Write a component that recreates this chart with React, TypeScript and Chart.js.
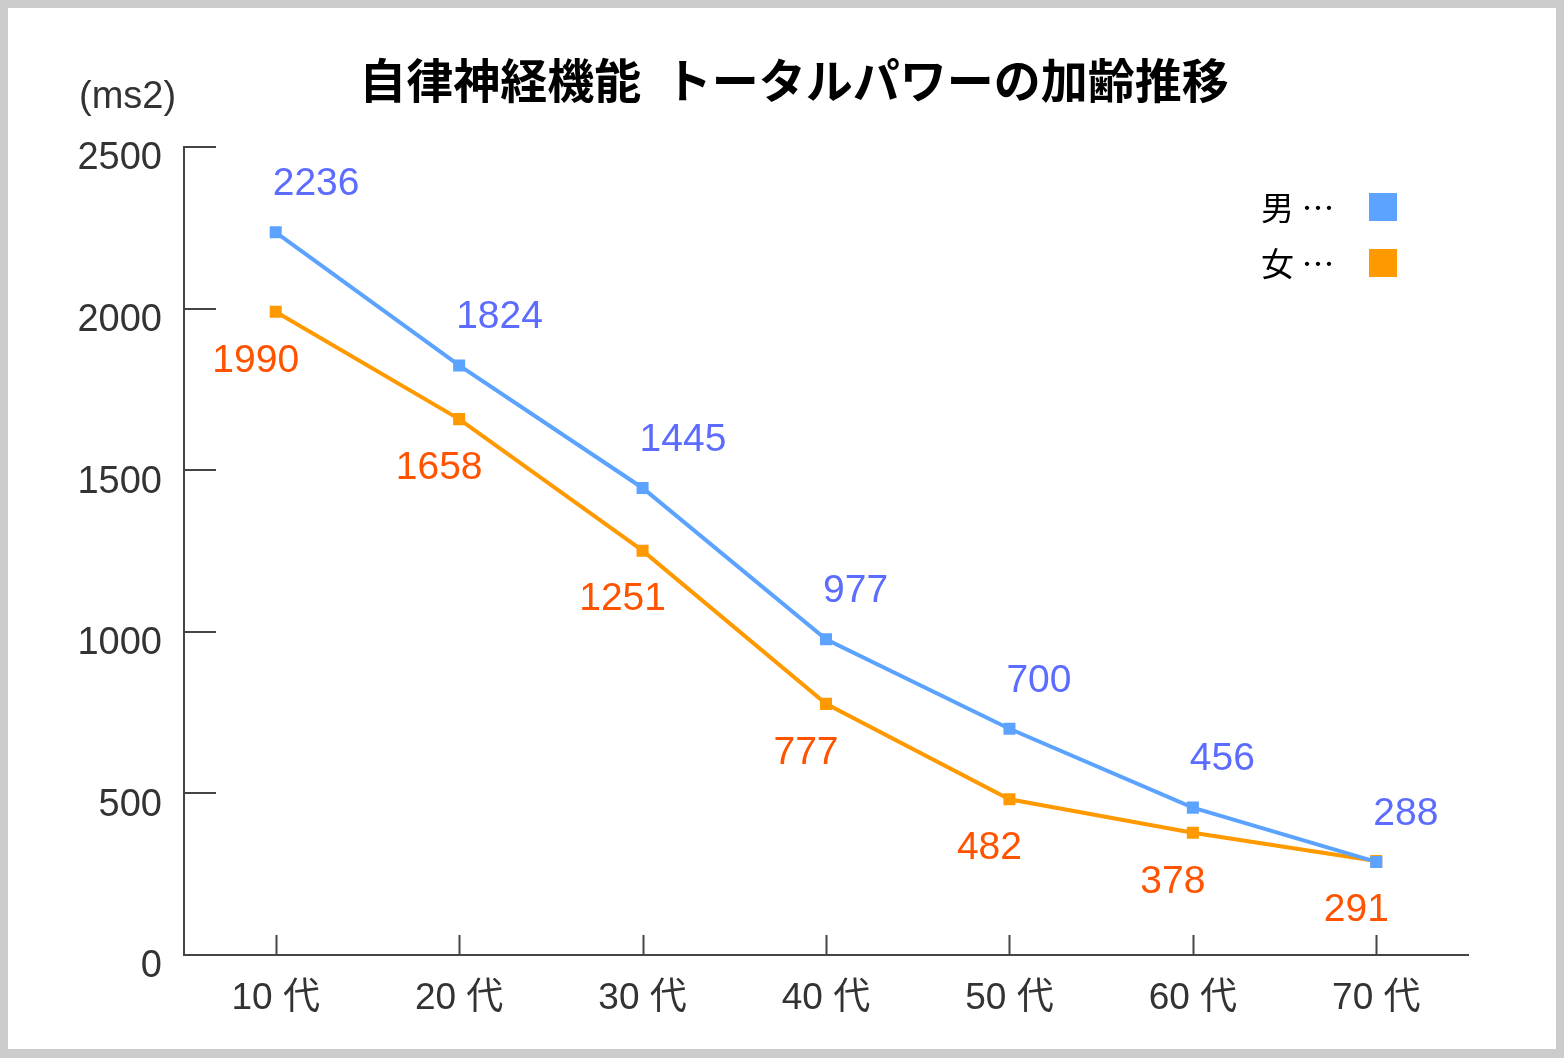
import React, { useEffect, useRef } from "react";
import { Chart, registerables } from "chart.js";

Chart.register(...registerables);

const TITLE = "自律神経機能\u2002トータルパワーの加齢推移";
const UNIT_LABEL = "(ms2)";
const categories = ["10 代", "20 代", "30 代", "40 代", "50 代", "60 代", "70 代"];
const seriesNames = ["男 …", "女 …"];
const maleValues = [2236, 1824, 1445, 977, 700, 456, 288];
const femaleValues = [1990, 1658, 1251, 777, 482, 378, 291];
const yTicks = [0, 500, 1000, 1500, 2000, 2500];

const NUM_FONT = '"Liberation Sans", Arial, "Noto Sans CJK JP", sans-serif';
const CJK_FONT = '"Noto Sans CJK JP", "Liberation Sans", sans-serif';

const MALE_LINE = "#5ca3ff";
const FEMALE_LINE = "#ff9900";
const MALE_LABEL = "#5b6cff";
const FEMALE_LABEL = "#ff5300";

const W = 1548;
const H = 1041;

const decorPlugin = {
  id: "decor",
  afterDraw(chart: any) {
    const ctx = chart.ctx as CanvasRenderingContext2D;
    const area = chart.chartArea;
    const xs = chart.scales.x;
    const ys = chart.scales.y;
    ctx.save();
    // inward tick marks
    ctx.strokeStyle = "#444";
    ctx.lineWidth = 2;
    ys.ticks.forEach((t: any) => {
      const y = Math.round(ys.getPixelForValue(t.value));
      ctx.beginPath();
      ctx.moveTo(area.left, y);
      ctx.lineTo(area.left + 32, y);
      ctx.stroke();
    });
    categories.forEach((_, i) => {
      const x = Math.round(xs.getPixelForValue(i)) + 0.5;
      ctx.beginPath();
      ctx.moveTo(x, area.bottom);
      ctx.lineTo(x, area.bottom - 20);
      ctx.stroke();
    });

    // title
    ctx.fillStyle = "#000";
    ctx.font = `bold 47px ${CJK_FONT}`;
    ctx.textAlign = "center";
    ctx.textBaseline = "middle";
    ctx.fillText(TITLE, 786, 72);

    // unit
    ctx.fillStyle = "#333";
    ctx.font = `38px ${NUM_FONT}`;
    ctx.textAlign = "left";
    ctx.fillText(UNIT_LABEL, 71, 90);

    // legend
    const ds = chart.data.datasets;
    ds.forEach((d: any, i: number) => {
      const cy = 199 + i * 56;
      ctx.fillStyle = "#000";
      ctx.font = `33px ${CJK_FONT}`;
      ctx.textAlign = "left";
      ctx.textBaseline = "middle";
      ctx.fillText(d.label, 1253, cy);
      ctx.fillStyle = d.borderColor;
      ctx.fillRect(1361, cy - 14, 28, 28);
    });
    ctx.restore();
  },
  afterDatasetsDraw(chart: any) {
    const ctx = chart.ctx as CanvasRenderingContext2D;
    ctx.save();
    ctx.font = `39px ${NUM_FONT}`;
    ctx.textBaseline = "middle";
    chart.data.datasets.forEach((d: any, di: number) => {
      const meta = chart.getDatasetMeta(di);
      meta.data.forEach((pt: any, i: number) => {
        const v = d.data[i];
        if (di === 0) {
          ctx.fillStyle = MALE_LABEL;
          ctx.textAlign = "left";
          ctx.fillText(String(v), pt.x - 3, pt.y - 48);
        } else {
          ctx.fillStyle = FEMALE_LABEL;
          ctx.textAlign = "center";
          ctx.fillText(String(v), pt.x - 20, pt.y + 49);
        }
      });
    });
    ctx.restore();
  },
};

export default function App() {
  const ref = useRef<HTMLCanvasElement>(null);
  useEffect(() => {
    document.body.style.margin = "0";
    const chart = new Chart(ref.current!, {
      type: "line",
      data: {
        labels: categories,
        datasets: [
          {
            label: seriesNames[0],
            data: maleValues,
            borderColor: MALE_LINE,
            backgroundColor: MALE_LINE,
            borderWidth: 4,
            pointStyle: "rect",
            pointRadius: 8.5,
            pointBorderWidth: 0,
            pointBackgroundColor: MALE_LINE,
            tension: 0,
          },
          {
            label: seriesNames[1],
            data: femaleValues,
            borderColor: FEMALE_LINE,
            backgroundColor: FEMALE_LINE,
            borderWidth: 4,
            pointStyle: "rect",
            pointRadius: 8.5,
            pointBorderWidth: 0,
            pointBackgroundColor: FEMALE_LINE,
            tension: 0,
          },
        ],
      },
      options: {
        responsive: false,
        animation: false,
        devicePixelRatio: 1,
        layout: { padding: { top: 139, right: 88, left: 0, bottom: 0 } },
        plugins: {
          legend: { display: false },
          title: { display: false },
          tooltip: { enabled: false },
        },
        scales: {
          x: {
            type: "category",
            offset: true,
            grid: { display: false, drawTicks: false },
            border: { display: true, color: "#444", width: 2 },
            ticks: {
              color: "#333",
              font: { size: 37, family: NUM_FONT },
              padding: 22,
              maxRotation: 0,
            },
            afterFit(scale: any) {
              scale.height = 94;
            },
          },
          y: {
            min: 0,
            max: 2500,
            afterBuildTicks(scale: any) {
              scale.ticks = yTicks.map((v) => ({ value: v }));
            },
            grid: { display: false, drawTicks: false },
            border: { display: true, color: "#444", width: 2 },
            ticks: {
              color: "#333",
              font: { size: 38, family: NUM_FONT },
              padding: 22,
              labelOffset: 12,
              callback: (v: any) => String(v),
            },
            afterFit(scale: any) {
              scale.width = 176;
            },
          },
        },
      },
      plugins: [decorPlugin],
    });
    return () => chart.destroy();
  }, []);

  return (
    <div
      style={{
        position: "absolute",
        left: 0,
        top: 0,
        width: 1564,
        height: 1058,
        boxSizing: "border-box",
        borderStyle: "solid",
        borderColor: "#cccccc",
        borderWidth: "8px 8px 9px 8px",
        background: "#fff",
      }}
    >
      <canvas ref={ref} width={W} height={H} style={{ display: "block", width: W, height: H }} />
    </div>
  );
}
